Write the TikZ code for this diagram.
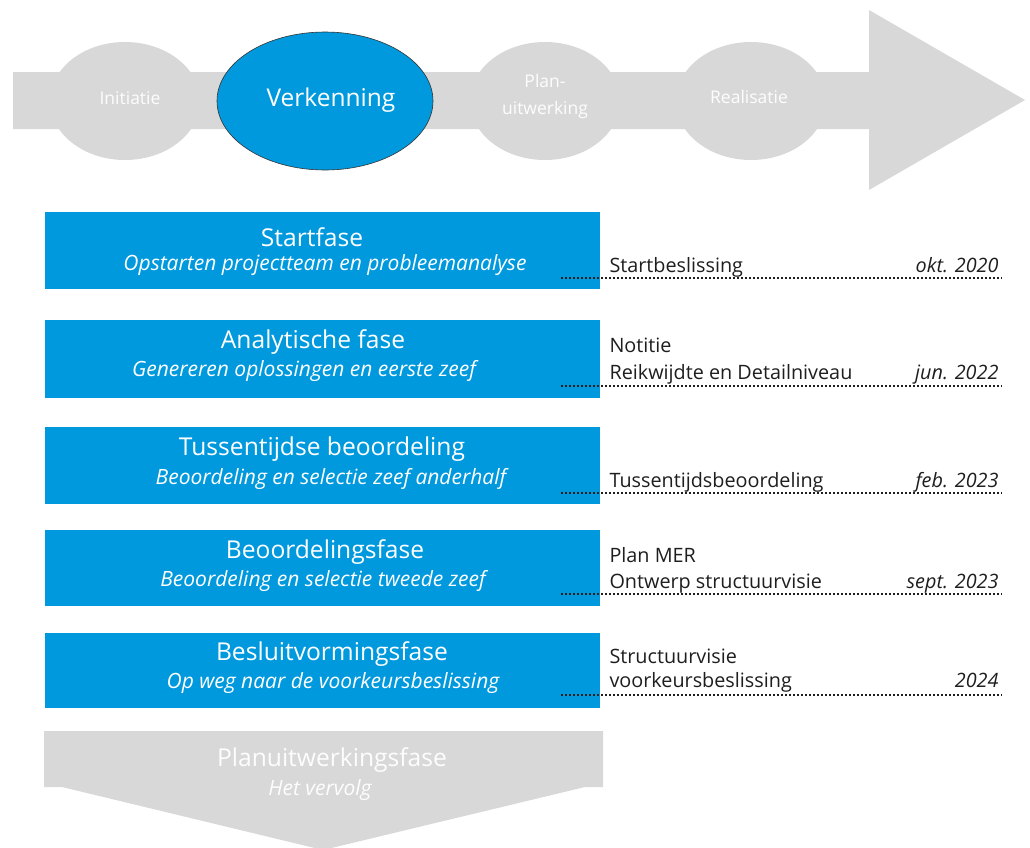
\documentclass[tikz,border=0pt]{standalone}
\usepackage{fontspec}
\setmainfont{Open Sans}
\usetikzlibrary{shapes.geometric}
\definecolor{phaseblue}{RGB}{0,153,221}
\definecolor{lightgray}{RGB}{216,216,216}
\definecolor{ink}{RGB}{30,30,30}
\begin{document}
\begin{tikzpicture}[x=1pt,y=-1pt,
  phasebox/.style={fill=phaseblue, draw=none},
  stageell/.style={ellipse, fill=lightgray, draw=none, minimum width=150pt, minimum height=118pt, inner sep=0pt},
  stagetxt/.style={text=white!96!lightgray, font=\fontsize{17.5}{27}\selectfont, align=center},
  title/.style={text=white, font=\fontsize{24.6}{27}\selectfont, anchor=center},
  subtitle/.style={text=white, font=\fontsize{21}{24}\selectfont\itshape, anchor=center},
  milestone/.style={text=ink, font=\fontsize{19.8}{22}\selectfont, anchor=base west},
  datetxt/.style={text=ink, font=\fontsize{19.8}{22}\selectfont\itshape, anchor=base east},
  dotline/.style={draw=ink, line width=2pt, dash pattern=on 2pt off 2pt}
]
\useasboundingbox (0,0) rectangle (1030,847);
% top arrow
\fill[lightgray] (13,72) -- (869,72) -- (869,10) -- (1025,100) -- (869,190) -- (869,129) -- (13,129) -- cycle;
\node[stageell] (ini) at (125,101) {};
\node[stageell] (plan) at (545,101) {};
\node[stageell] (real) at (751,101) {};
\node[ellipse, fill=phaseblue, draw=black!80, line width=0.6pt, minimum width=216pt, minimum height=138pt, inner sep=0pt] (verk) at (325,101) {};
\node[stagetxt] (initxt) at (130,98) {Initiatie};
\node[text=white, font=\fontsize{24.5}{28}\selectfont] (verktxt) at (331,100) {Verkenning};
\node[stagetxt] (plantxt) at (545,96) {Plan-\\uitwerking};
\node[stagetxt] (realtxt) at (749,97) {Realisatie};
% phase boxes
\fill[phasebox] (45,212) rectangle (600,289);
\fill[phasebox] (45,320) rectangle (600,398);
\fill[phasebox] (45,427) rectangle (600,504);
\fill[phasebox] (45,530) rectangle (600,606);
\fill[phasebox] (45,633) rectangle (600,708);
\node[title] (t1) at (312,237) {Startfase};
\node[subtitle] (s1) at (325,265) {Opstarten projectteam en probleemanalyse};
\node[title] (t2) at (313,342) {Analytische fase};
\node[subtitle] (s2) at (304,371) {Genereren oplossingen en eerste zeef};
\node[title] (t3) at (322,449) {Tussentijdse beoordeling};
\node[subtitle] (s3) at (331,479) {Beoordeling en selectie zeef anderhalf};
\node[title] (t4) at (325,552) {Beoordelingsfase};
\node[subtitle] (s4) at (323,581) {Beoordeling en selectie tweede zeef};
\node[title] (t5) at (332,654) {Besluitvormingsfase};
\node[subtitle] (s5) at (333,683) {Op weg naar de voorkeursbeslissing};
% milestones
\coordinate (d1a) at (561,278); \coordinate (d1b) at (1002,278);
\coordinate (d2a) at (561,386); \coordinate (d2b) at (1002,386);
\coordinate (d3a) at (561,493); \coordinate (d3b) at (1002,493);
\coordinate (d4a) at (561,594); \coordinate (d4b) at (1002,594);
\coordinate (d5a) at (561,695); \coordinate (d5b) at (1002,695);
\draw[dotline] (d1a) -- (d1b);
\draw[dotline] (d2a) -- (d2b);
\draw[dotline] (d3a) -- (d3b);
\draw[dotline] (d4a) -- (d4b);
\draw[dotline] (d5a) -- (d5b);
\node[milestone] (m1) at (606,272) {Startbeslissing};
\node[datetxt] (dt1) at (1002,272) {okt. 2020};
\node[milestone] (m2a) at (606,352) {Notitie};
\node[milestone] (m2b) at (606,379) {Reikwijdte en Detailniveau};
\node[datetxt] (dt2) at (1002,379) {jun. 2022};
\node[milestone] (m3) at (606,487) {Tussentijdsbeoordeling};
\node[datetxt] (dt3) at (1002,487) {feb. 2023};
\node[milestone] (m4a) at (606,562) {Plan MER};
\node[milestone] (m4b) at (606,588) {Ontwerp structuurvisie};
\node[datetxt] (dt4) at (1002,588) {sept. 2023};
\node[milestone] (m5a) at (606,663) {Structuurvisie};
\node[milestone] (m5b) at (606,687) {voorkeursbeslissing};
\node[datetxt] (dt5) at (1002,687) {2024};
% bottom arrow
\fill[lightgray] (44,731) -- (603,731) -- (603,787) -- (585,787) -- (323,850) -- (62,787) -- (44,787) -- cycle;
\node[title, text=white!96!lightgray] (t6) at (332,760) {Planuitwerkingsfase};
\node[subtitle, text=white!96!lightgray] (s6) at (320,790) {Het vervolg};
\end{tikzpicture}
\end{document}
